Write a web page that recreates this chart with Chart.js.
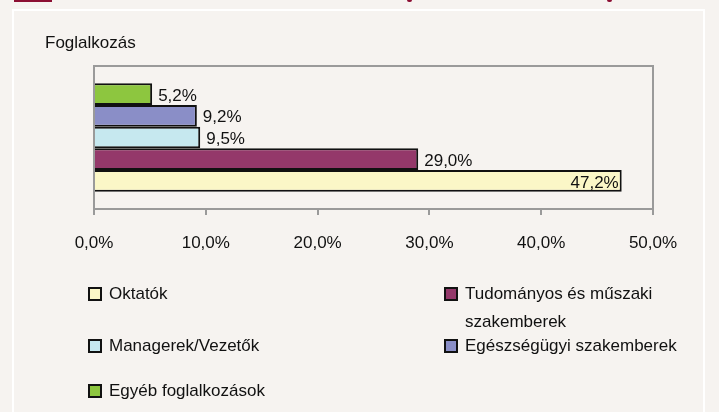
<!DOCTYPE html>
<html>
<head>
<meta charset="utf-8">
<script src="https://cdn.jsdelivr.net/npm/chart.js@4/dist/chart.umd.min.js"></script>
<style>
  html, body { margin: 0; padding: 0; }
  body { width: 719px; height: 412px; background: #f6f3f0; position: relative; overflow: hidden;
         font-family: 'Liberation Sans', Arial, sans-serif; color: #111; }
  .redbar { position: absolute; left: 14px; top: 0; width: 38px; height: 2px; background: #8c0f33; }
  .dot { position: absolute; top: -2px; width: 5px; height: 4px; border-radius: 3px; background: #8c0f33; }
  .panel { position: absolute; left: 12px; top: 9px; width: 693px; height: 420px; border: 2px solid #fff; box-sizing: border-box; }
  #chart { position: absolute; left: 0; top: 0; }
  .axis-title { position: absolute; left: 45px; top: 33px; font-size: 17px; line-height: 20px; }
  .leg { position: absolute; font-size: 17px; line-height: 28px; }
  .leg .box { position: absolute; left: -21px; top: 7px; width: 10px; height: 10px; border: 2px solid #111; }
</style>
</head>
<body>
<div class="redbar"></div>
<div class="dot" style="left:407px"></div>
<div class="dot" style="left:607px"></div>
<div class="panel"></div>
<canvas id="chart" width="719" height="412"></canvas>
<div class="axis-title">Foglalkozás</div>
<div id="legend"></div>
<script>
// series (legend order)
const seriesNames = ['Oktatók', 'Tudományos és műszaki szakemberek', 'Managerek/Vezetők', 'Egészségügyi szakemberek', 'Egyéb foglalkozások'];
const seriesValues = [47.2, 29.0, 9.5, 9.2, 5.2];
const seriesColors = ['#fbf7c7', '#94386a', '#c6e8ef', '#8a8ec7', '#8dc63f'];
const categories = [''];
const xMin = 0, xMax = 50, xStep = 10;

const fmt = v => v.toFixed(1).replace('.', ',') + '%';

// excel draws the first series at the bottom, so reverse for chart.js
const datasets = seriesNames.map((name, i) => ({
  label: name,
  data: [seriesValues[i]],
  backgroundColor: seriesColors[i],
  borderColor: '#111',
  borderWidth: 2,
  categoryPercentage: 0.76,
  barPercentage: 1
})).reverse();

const frame = {
  id: 'frame',
  beforeDatasetsDraw(chart) {
    const a = chart.chartArea, ctx = chart.ctx;
    ctx.save();
    ctx.strokeStyle = '#9a9a9a';
    ctx.lineWidth = 2;
    ctx.strokeRect(a.left, a.top, a.right - a.left, a.bottom - a.top);
    ctx.restore();
  }
};

const valueLabels = {
  id: 'valueLabels',
  afterDatasetsDraw(chart) {
    const ctx = chart.ctx, a = chart.chartArea;
    ctx.save();
    ctx.font = '17px "Liberation Sans", Arial, sans-serif';
    ctx.fillStyle = '#111';
    ctx.textBaseline = 'middle';
    chart.data.datasets.forEach((ds, i) => {
      const bar = chart.getDatasetMeta(i).data[0];
      const txt = fmt(ds.data[0]);
      const w = ctx.measureText(txt).width;
      if (bar.x + 6 + w > a.right) {
        ctx.textAlign = 'right';
        ctx.fillText(txt, bar.x - 3, bar.y + 2);
      } else {
        ctx.textAlign = 'left';
        ctx.fillText(txt, bar.x + 6, bar.y + 2);
      }
    });
    ctx.restore();
  }
};

Chart.defaults.font.family = '"Liberation Sans", Arial, sans-serif';
Chart.defaults.font.size = 17;
Chart.defaults.color = '#111';

new Chart(document.getElementById('chart'), {
  type: 'bar',
  data: { labels: categories, datasets: datasets },
  options: {
    indexAxis: 'y',
    responsive: false,
    animation: false,
    layout: { padding: { left: 94, right: 66, top: 66, bottom: 143 } },
    plugins: { legend: { display: false }, tooltip: { enabled: false } },
    scales: {
      x: {
        min: xMin, max: xMax,
        afterFit(scale) { scale.height = 60; },
        border: { display: false },
        grid: { drawOnChartArea: false, drawTicks: true, tickLength: 6, color: '#9a9a9a', lineWidth: 2 },
        ticks: { stepSize: xStep, padding: 18, callback: v => fmt(v) }
      },
      y: { display: false }
    }
  },
  plugins: [frame, valueLabels]
});

// html legend, two columns like the original
const legendPos = [
  { left: 109, top: 280 },
  { left: 465, top: 280 },
  { left: 109, top: 332 },
  { left: 465, top: 332 },
  { left: 109, top: 377 }
];
const legend = document.getElementById('legend');
seriesNames.forEach((name, i) => {
  const d = document.createElement('div');
  d.className = 'leg';
  d.style.left = legendPos[i].left + 'px';
  d.style.top = legendPos[i].top + 'px';
  d.style.width = '225px';
  d.innerHTML = '<span class="box" style="background:' + seriesColors[i] + '"></span>' + name;
  legend.appendChild(d);
});
</script>
</body>
</html>
